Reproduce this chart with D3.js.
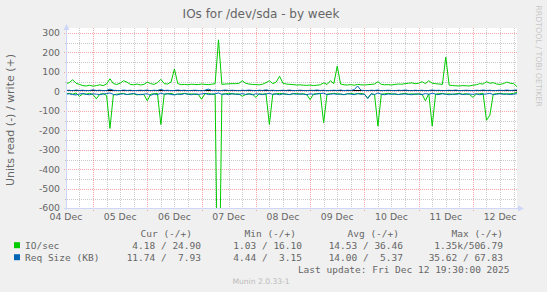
<!DOCTYPE html>
<html>
<head>
<meta charset="utf-8">
<script src="https://cdn.jsdelivr.net/npm/d3@7/dist/d3.min.js"></script>
<style>
body { margin: 0; background: #f0f0f0; }
text { font-family: "DejaVu Sans", sans-serif; fill: #666; }
.mono { font-family: "DejaVu Sans Mono", monospace; font-size: 9.5px; white-space: pre; }
</style>
</head>
<body>
<svg width="547" height="292"></svg>
<script>
// samples every 1.5 h, first one at 04 Dec 12:00
var stepHours = 1.5;
var dayLabels = ["04 Dec", "05 Dec", "06 Dec", "07 Dec", "08 Dec", "09 Dec", "10 Dec", "11 Dec", "12 Dec"];
var yTicks = [300, 200, 100, 0, -100, -200, -300, -400, -500, -600];

// IO/sec write (+)
var wrio = [40, 45, 60, 42, 36, 30, 28, 32, 27, 30,
	34, 30, 38, 65, 40, 36, 42, 55, 48, 36,
	34, 38, 33, 36, 48, 40, 36, 45, 62, 40,
	38, 48, 115, 40, 35, 36, 34, 37, 36, 35,
	38, 36, 35, 37, 40, 265, 36, 38, 39, 40,
	40, 41, 55, 42, 38, 36, 35, 34, 37, 45,
	55, 40, 48, 78, 42, 38, 36, 35, 33, 34,
	32, 31, 33, 30, 32, 34, 44, 36, 55, 40,
	130, 38, 34, 33, 35, 32, 36, 34, 33, 35,
	36, 38, 50, 36, 34, 35, 33, 36, 38, 37,
	40, 42, 44, 40, 42, 50, 40, 55, 42, 40,
	38, 36, 176, 32, 30, 29, 28, 30, 29, 28,
	32, 34, 40, 38, 50, 42, 45, 38, 36, 40,
	48, 42, 40, 24.9];
// IO/sec read (-)
var rdio = [12, 10, 14, 8, 25, 12, 14, 10, 16, 38,
	14, 12, 20, 190, 18, 14, 12, 10, 16, 14,
	12, 18, 14, 16, 48, 14, 12, 10, 170, 14,
	12, 10, 16, 14, 12, 10, 14, 12, 16, 14,
	40, 12, 10, 14, 16, 1350, 14, 12, 10, 12,
	14, 12, 25, 16, 12, 14, 30, 12, 14, 12,
	170, 14, 12, 10, 12, 14, 16, 12, 10, 14,
	12, 16, 42, 14, 12, 10, 160, 14, 12, 10,
	12, 14, 16, 12, 10, 14, 12, 10, 14, 35,
	12, 16, 178, 14, 12, 10, 12, 14, 16, 12,
	10, 14, 12, 16, 12, 14, 48, 12, 178, 14,
	12, 10, 14, 12, 16, 12, 10, 14, 12, 16,
	30, 14, 12, 10, 148, 122, 14, 12, 10, 12,
	14, 12, 10, 4.18];
// Req Size (KB) write (+)
var wrsz = [5, 6, 4, 7, 5, 6, 4, 5, 8, 5,
	6, 4, 5, 12, 6, 5, 4, 7, 5, 6,
	4, 5, 6, 5, 7, 4, 6, 5, 10, 5,
	6, 4, 5, 7, 5, 6, 4, 5, 6, 5,
	4, 6, 12, 5, 6, 4, 5, 7, 5, 6,
	5, 4, 6, 5, 7, 5, 4, 6, 5, 8,
	5, 6, 4, 5, 6, 5, 7, 4, 5, 6,
	5, 4, 6, 5, 7, 5, 6, 4, 5, 6,
	5, 7, 4, 6, 5, 9, 28, 6, 5, 4,
	6, 5, 7, 4, 5, 6, 5, 4, 6, 5,
	7, 5, 4, 6, 5, 6, 4, 5, 7, 5,
	6, 4, 5, 6, 5, 7, 4, 5, 6, 5,
	4, 6, 5, 7, 5, 6, 4, 5, 6, 5,
	7, 5, 6, 7.93];
// Req Size (KB) read (-)
var rdsz = [14, 12, 16, 18, 13, 11, 15, 17, 12, 14,
	16, 13, 11, 8, 15, 18, 14, 12, 16, 13,
	11, 15, 17, 14, 12, 20, 13, 16, 9, 14,
	12, 15, 18, 13, 16, 11, 14, 17, 12, 15,
	13, 10, 16, 14, 12, 8, 15, 13, 17, 12,
	14, 16, 11, 15, 13, 17, 12, 14, 16, 13,
	10, 15, 13, 17, 12, 14, 16, 11, 15, 13,
	14, 17, 12, 15, 13, 11, 9, 16, 14, 12,
	15, 13, 17, 12, 14, 16, 11, 15, 13, 36,
	12, 16, 8, 14, 17, 13, 15, 12, 16, 14,
	13, 15, 17, 12, 14, 16, 11, 15, 9, 14,
	16, 12, 14, 17, 13, 15, 12, 16, 14, 13,
	15, 12, 17, 14, 13, 10, 16, 14, 12, 15,
	13, 16, 14, 11.74];

var legendNames = ["IO/sec", "Req Size (KB)"];
var legendColors = ["#00cc00", "#0066b3"];
var legendHeads = ["Cur (-/+)", "Min (-/+)", "Avg (-/+)", "Max (-/+)"];
var legendValues = [["4.18 / 24.90", "1.03 / 16.10", "14.53 / 36.46", "1.35k/506.79"],
	["11.74 /  7.93", "4.44 /  3.15", "14.00 /  5.37", "35.62 / 67.83"]];

var svg = d3.select("svg");
var t0 = new Date(2025, 11, 4, 12, 0);
var time = function(i) { return new Date(t0.getTime() + i * stepHours * 3600000); };

var x = d3.scaleTime()
	.domain([new Date(2025, 11, 4, 12, 30), new Date(2025, 11, 12, 19, 30)])
	.range([67, 517]);
var y = d3.scaleLinear().domain([-600, 300]).range([208.3, 33]);

svg.append("rect").attr("width", 547).attr("height", 292).attr("fill", "#f0f0f0");
svg.append("rect").attr("x", 67).attr("y", 28).attr("width", 450).attr("height", 180).attr("fill", "#fff");

svg.append("clipPath").attr("id", "plot")
	.append("rect").attr("x", 67).attr("y", 28).attr("width", 450).attr("height", 180);

// grid
var grid = svg.append("g").attr("shape-rendering", "crispEdges").attr("stroke-dasharray", "1,1");
var hours = d3.timeHour.every(6).range(x.domain()[0], x.domain()[1]);
grid.selectAll(".vmin").data(hours.filter(function(d){return d.getHours() != 0;}))
	.enter().append("line")
	.attr("x1", function(d){return Math.round(x(d)) + 0.5;})
	.attr("x2", function(d){return Math.round(x(d)) + 0.5;})
	.attr("y1", 28).attr("y2", 210)
	.attr("stroke", "rgba(150,150,150,0.5)");
grid.selectAll(".hmin").data([250, 150, 50, -50, -150, -250, -350, -450, -550])
	.enter().append("line")
	.attr("x1", 65).attr("x2", 517)
	.attr("y1", function(d){return Math.round(y(d)) + 0.5;})
	.attr("y2", function(d){return Math.round(y(d)) + 0.5;})
	.attr("stroke", "rgba(150,150,150,0.5)");
grid.selectAll(".vmaj").data(d3.timeDay.range(x.domain()[0], x.domain()[1]))
	.enter().append("line")
	.attr("x1", function(d){return Math.round(x(d)) + 0.5;})
	.attr("x2", function(d){return Math.round(x(d)) + 0.5;})
	.attr("y1", 28).attr("y2", 211)
	.attr("stroke", "rgba(235,60,60,0.45)");
grid.selectAll(".hmaj").data(yTicks)
	.enter().append("line")
	.attr("x1", 64).attr("x2", 517)
	.attr("y1", function(d){return Math.round(y(d)) + 0.5;})
	.attr("y2", function(d){return Math.round(y(d)) + 0.5;})
	.attr("stroke", "rgba(235,60,60,0.45)");

// axes
var axisColor = "#cfd6f8";
svg.append("line").attr("x1", 66.5).attr("x2", 66.5).attr("y1", 210).attr("y2", 28)
	.attr("stroke", axisColor);
svg.append("path").attr("d", "M63.5,30 L66.5,24 L69.5,30 Z").attr("fill", axisColor);
svg.append("line").attr("x1", 64).attr("x2", 519).attr("y1", 208.5).attr("y2", 208.5)
	.attr("stroke", axisColor);
svg.append("path").attr("d", "M518,205.5 L524,208.5 L518,211.5 Z").attr("fill", axisColor);

// data lines
var plot = svg.append("g").attr("clip-path", "url(#plot)");
var pos = d3.line().x(function(d, i){return x(time(i));}).y(function(d){return y(d);});
var neg = d3.line().x(function(d, i){return x(time(i));}).y(function(d){return y(-d);});

plot.append("path").attr("d", neg(rdio)).attr("fill", "none").attr("stroke", "#00cc00").attr("stroke-width", 1);
plot.append("path").attr("d", pos(wrio)).attr("fill", "none").attr("stroke", "#00cc00").attr("stroke-width", 1);
plot.append("line").attr("x1", 67).attr("x2", 517).attr("y1", Math.round(y(0)) - 0.5).attr("y2", Math.round(y(0)) - 0.5)
	.attr("stroke", "#000").attr("stroke-width", 1);
plot.append("path").attr("d", neg(rdsz)).attr("fill", "none").attr("stroke", "#0066b3").attr("stroke-width", 1);
plot.append("path").attr("d", pos(wrsz)).attr("fill", "none").attr("stroke", "#0066b3").attr("stroke-width", 1);

// tick labels
svg.selectAll(".ylab").data(yTicks).enter().append("text")
	.attr("x", 60).attr("y", function(d){return d == -600 ? y(d) - 1 : y(d);})
	.attr("dy", "0.36em").attr("text-anchor", "end")
	.style("font-size", "9.3px")
	.text(function(d){return d;});
svg.selectAll(".xlab").data(dayLabels).enter().append("text")
	.attr("x", function(d, i){return x(new Date(2025, 11, 4 + i, 12));})
	.attr("y", 220).attr("text-anchor", "middle")
	.style("font-size", "9.3px")
	.text(function(d){return d;});

// titles
svg.append("text").attr("x", 261).attr("y", 17.5).attr("text-anchor", "middle")
	.style("font-size", "12px").text("IOs for /dev/sda - by week");
svg.append("text").attr("transform", "translate(10.5,120) rotate(-90)")
	.attr("text-anchor", "middle").attr("dy", "0.36em")
	.style("font-size", "11px").text("Units read (-) / write (+)");
svg.append("text").attr("transform", "translate(538.5,56) rotate(90)")
	.attr("text-anchor", "middle").attr("dy", "0.36em")
	.style("font-size", "7.9px").style("fill", "#c8c8c8").text("RRDTOOL / TOBI OETIKER");

// legend
var headEnds = [192, 296, 399, 503];
var valueEnds = [201, 302, 403, 503];
svg.selectAll(".head").data(legendHeads).enter().append("text")
	.attr("class", "mono").attr("x", function(d, i){return headEnds[i];})
	.attr("y", 236.7).attr("text-anchor", "end").text(function(d){return d;});

legendNames.forEach(function(name, r) {
	var yy = 248.7 + r * 12;
	svg.append("rect").attr("x", 14).attr("y", yy - 6.5).attr("width", 6).attr("height", 6)
		.attr("fill", legendColors[r]);
	svg.append("text").attr("class", "mono").attr("x", 25).attr("y", yy).text(name);
	svg.selectAll(".val" + r).data(legendValues[r]).enter().append("text")
		.attr("class", "mono").attr("x", function(d, i){return valueEnds[i];})
		.attr("y", yy).attr("text-anchor", "end").text(function(d){return d;});
});

svg.append("text").attr("class", "mono").attr("x", 509.5).attr("y", 272.7).attr("text-anchor", "end")
	.text("Last update: Fri Dec 12 19:30:00 2025");
svg.append("text").attr("x", 261).attr("y", 284).attr("text-anchor", "middle")
	.style("font-size", "7.6px").style("fill", "#bbb").text("Munin 2.0.33-1");
</script>
</body>
</html>
